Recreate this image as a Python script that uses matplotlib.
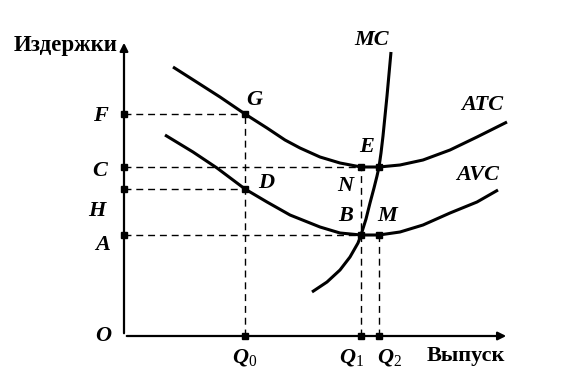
import matplotlib
matplotlib.use('Agg')
from matplotlib import pyplot as plt

# Cost curves (output Q, cost)
atc_q = [49, 71, 96, 121, 143, 161, 176, 196, 216, 237, 255, 276, 299, 326, 353, 383]
atc_c = [269, 255, 239, 222, 208, 196, 188, 179, 173, 169, 169, 171, 176, 186, 199, 214]
avc_q = [41, 69, 93, 121, 143, 166, 176, 196, 216, 237, 255, 276, 299, 326, 353, 374]
avc_c = [201, 184, 168, 147, 134, 121, 117, 109, 103, 101, 101, 104, 111, 123, 134, 146]
mc_q = [188, 203, 216, 226, 234, 237, 242, 246, 250, 253, 255, 257, 259, 263, 267]
mc_c = [44, 54, 66, 79, 93, 101, 117, 133, 148, 160, 169, 183, 200, 240, 284]

# Levels on the cost axis and output axis
F, C, H, A = 222, 169, 147, 101
Q0, Q1, Q2 = 121, 237, 255

plt.rcParams['mathtext.fontset'] = 'custom'
plt.rcParams['mathtext.it'] = 'Liberation Serif:italic:bold'
plt.rcParams['mathtext.rm'] = 'Liberation Serif'

fig = plt.figure(figsize=(5.79, 3.91), dpi=100)
ax = fig.add_axes([0, 0, 1, 1])
ax.set_xlim(-124, 455)
ax.set_ylim(-55, 336)
ax.axis('off')

# Axes with arrows
ax.annotate('', xy=(0, 296), xytext=(0, 0),
            arrowprops=dict(arrowstyle='-|>', color='black', lw=1.6,
                            mutation_scale=12))
ax.annotate('', xy=(385, 0), xytext=(0, 0),
            arrowprops=dict(arrowstyle='-|>', color='black', lw=1.6,
                            mutation_scale=12))

# Curves
for q, c in [(atc_q, atc_c), (avc_q, avc_c), (mc_q, mc_c)]:
    ax.plot(q, c, color='black', lw=2.2, solid_capstyle='butt',
            solid_joinstyle='round')

# Dashed guide lines
dash = dict(color='black', lw=1.0, dashes=(5, 3.5))
ax.plot([0, Q0], [F, F], **dash)
ax.plot([Q0, Q0], [0, F], **dash)
ax.plot([0, Q1], [C, C], **dash)
ax.plot([Q1, Q1], [0, C], **dash)
ax.plot([0, Q0], [H, H], **dash)
ax.plot([0, Q1], [A, A], **dash)
ax.plot([Q2, Q2], [0, A], **dash)

# Points
px = [0, 0, 0, 0, Q0, Q0, Q1, Q2, Q1, Q2, Q0, Q1, Q2]
py = [F, C, H, A, F, H, C, C, A, A, 0, 0, 0]
ax.plot(px, py, 's', color='black', ms=5)

lab = dict(fontsize=16, family='Liberation Serif', style='italic',
           weight='bold', ha='center', va='center')
ax.text(248, 296, 'MC', **lab)
ax.text(358, 231, 'ATC', **lab)
ax.text(354, 161, 'AVC', **lab)
ax.text(130, 236, 'G', **lab)
ax.text(142, 153, 'D', **lab)
ax.text(243, 189, 'E', **lab)
ax.text(221, 150, 'N', **lab)
ax.text(222, 120, 'B', **lab)
ax.text(263, 120, 'M', **lab)
ax.text(-24, 220, 'F', **lab)
ax.text(-24, 165, 'C', **lab)
ax.text(-27, 125, 'H', **lab)
ax.text(-21, 91, 'A', **lab)
ax.text(-21, 0, 'O', **lab)

qlab = dict(fontsize=16, ha='center', va='center')
ax.text(Q0, -21, r'$Q_0$', **qlab)
ax.text(Q1 - 9, -21, r'$Q_1$', **qlab)
ax.text(Q2 + 10, -21, r'$Q_2$', **qlab)

txt = dict(family='Liberation Serif', weight='bold', ha='center', va='center')
ax.text(342, -20, 'Выпуск', fontsize=16, **txt)
ax.text(-58, 291, 'Издержки', fontsize=16.5, **txt)

fig.savefig('out.png', dpi=100)
